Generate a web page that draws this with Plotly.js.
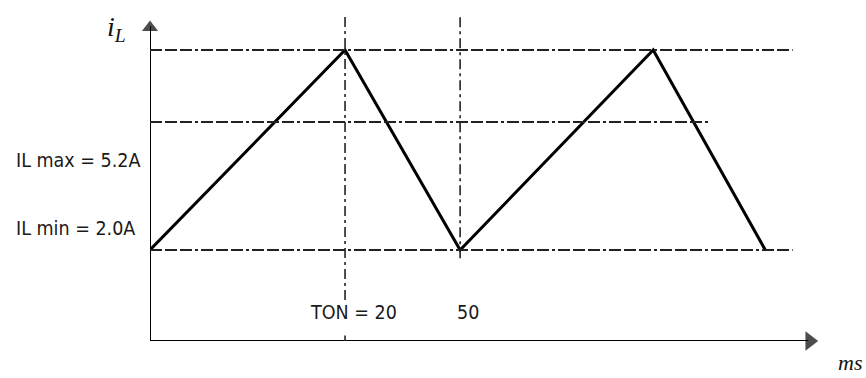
<!DOCTYPE html>
<html>
<head>
<meta charset="utf-8">
<script src="https://cdn.plot.ly/plotly-3.0.1.min.js"></script>
<style>html,body{margin:0;padding:0;background:#fff;}#chart{width:866px;height:378px;}</style>
</head>
<body>
<div id="chart"></div>
<script>
// Inductor current waveform (schematic units)
var timePoints = [0, 20, 31.8, 51.6, 63.1];
var currentPoints = [2.0, 5.2, 2.0, 5.2, 2.0];

var levelValues = [5.2, 4.05, 2.0];
var levelEnds = [65.9, 57.3, 65.9];

var markerTimes = [20, 31.8];
var markerLabels = ["TON = 20", "50"];
var markerLineBottoms = [1.2, 1.87];

var levelLabels = ["IL max = 5.2A", "IL min = 2.0A"];
var levelLabelY = [3.44, 2.35];
var levelLabelShift = [-8, -13];

var xRange = [0, 68.5];
var yRange = [0.544, 5.84];
var yArrowTop = 5.73;
var lineTop = 5.79;

var txtFont = {family: "Liberation Sans Narrow, DejaVu Sans Condensed, Arial Narrow, sans-serif", size: 19.5, color: "#1a1a1a"};
var dashH = "12px,3px,12px,3px,12px,3px,3px,3px";
var dashV = "10px,4px,3px,4px";

var shapes = [];
levelValues.forEach(function (v, i) {
  shapes.push({type: "line", xref: "x", yref: "y", x0: 0, x1: levelEnds[i], y0: v, y1: v,
    line: {color: "#222", width: 2, dash: dashH}});
});
markerTimes.forEach(function (t, i) {
  shapes.push({type: "line", xref: "x", yref: "y", x0: t, x1: t, y0: markerLineBottoms[i], y1: lineTop,
    line: {color: "#222", width: 1.6, dash: dashV}});
});
// small tick on the time axis under TON
shapes.push({type: "line", xref: "x", yref: "y", x0: markerTimes[0], x1: markerTimes[0], y0: yRange[0], y1: yRange[0] + 0.09,
  line: {color: "#222", width: 1.6}});

var annotations = [];
levelLabels.forEach(function (s, i) {
  annotations.push({x: 0, y: levelLabelY[i], xref: "x", yref: "y", text: s, showarrow: false,
    xanchor: "right", yanchor: "middle", xshift: levelLabelShift[i], font: txtFont});
});
markerLabels.forEach(function (s, i) {
  annotations.push({x: markerTimes[i], y: 1.0, xref: "x", yref: "y", text: s, showarrow: false,
    xanchor: "center", yanchor: "middle", xshift: 8, font: txtFont});
});
annotations.push({x: 0, y: 5.55, xref: "x", yref: "y", text: "<i>i</i><sub><i>L</i></sub>", showarrow: false,
  xanchor: "right", yanchor: "middle", xshift: -22, font: {family: "Liberation Serif, DejaVu Serif, serif", size: 28, color: "#111"}});
annotations.push({x: 1.0, y: 0, xref: "paper", yref: "paper", text: "<i>ms</i>", showarrow: false,
  xanchor: "right", yanchor: "bottom", xshift: 46, yshift: -36, font: {family: "Liberation Serif, DejaVu Serif, serif", size: 22, color: "#111"}});

// axes drawn as lines with triangular heads
var yAxisTrace = {x: [xRange[0], xRange[0]], y: [yRange[0], yArrowTop - 0.15], type: "scatter", mode: "lines",
  line: {color: "#000", width: 2}, cliponaxis: false, hoverinfo: "none"};
var xAxisTrace = {x: [xRange[0], xRange[1] - 1.0], y: [yRange[0], yRange[0]], type: "scatter", mode: "lines",
  line: {color: "#000", width: 2}, cliponaxis: false, hoverinfo: "none"};
var heads = {x: [xRange[0], xRange[1] - 0.85], y: [yArrowTop - 0.17, yRange[0]], type: "scatter", mode: "markers",
  marker: {symbol: ["triangle-up", "triangle-right"], size: [14, 17], color: "#000", line: {width: 0}},
  cliponaxis: false, hoverinfo: "none"};

var trace = {x: timePoints, y: currentPoints, type: "scatter", mode: "lines",
  line: {color: "#000", width: 3}, cliponaxis: false, hoverinfo: "none"};

var layout = {
  width: 866, height: 378,
  margin: {l: 150, r: 48, t: 10, b: 37, pad: 0},
  paper_bgcolor: "#fff", plot_bgcolor: "#fff",
  showlegend: false,
  xaxis: {range: xRange, showgrid: false, zeroline: false, showticklabels: false, showline: false, ticks: "", fixedrange: true},
  yaxis: {range: yRange, showgrid: false, zeroline: false, showticklabels: false, showline: false, ticks: "", fixedrange: true},
  shapes: shapes,
  annotations: annotations
};

Plotly.newPlot("chart", [yAxisTrace, xAxisTrace, heads, trace], layout, {displayModeBar: false, staticPlot: true});
</script>
</body>
</html>
